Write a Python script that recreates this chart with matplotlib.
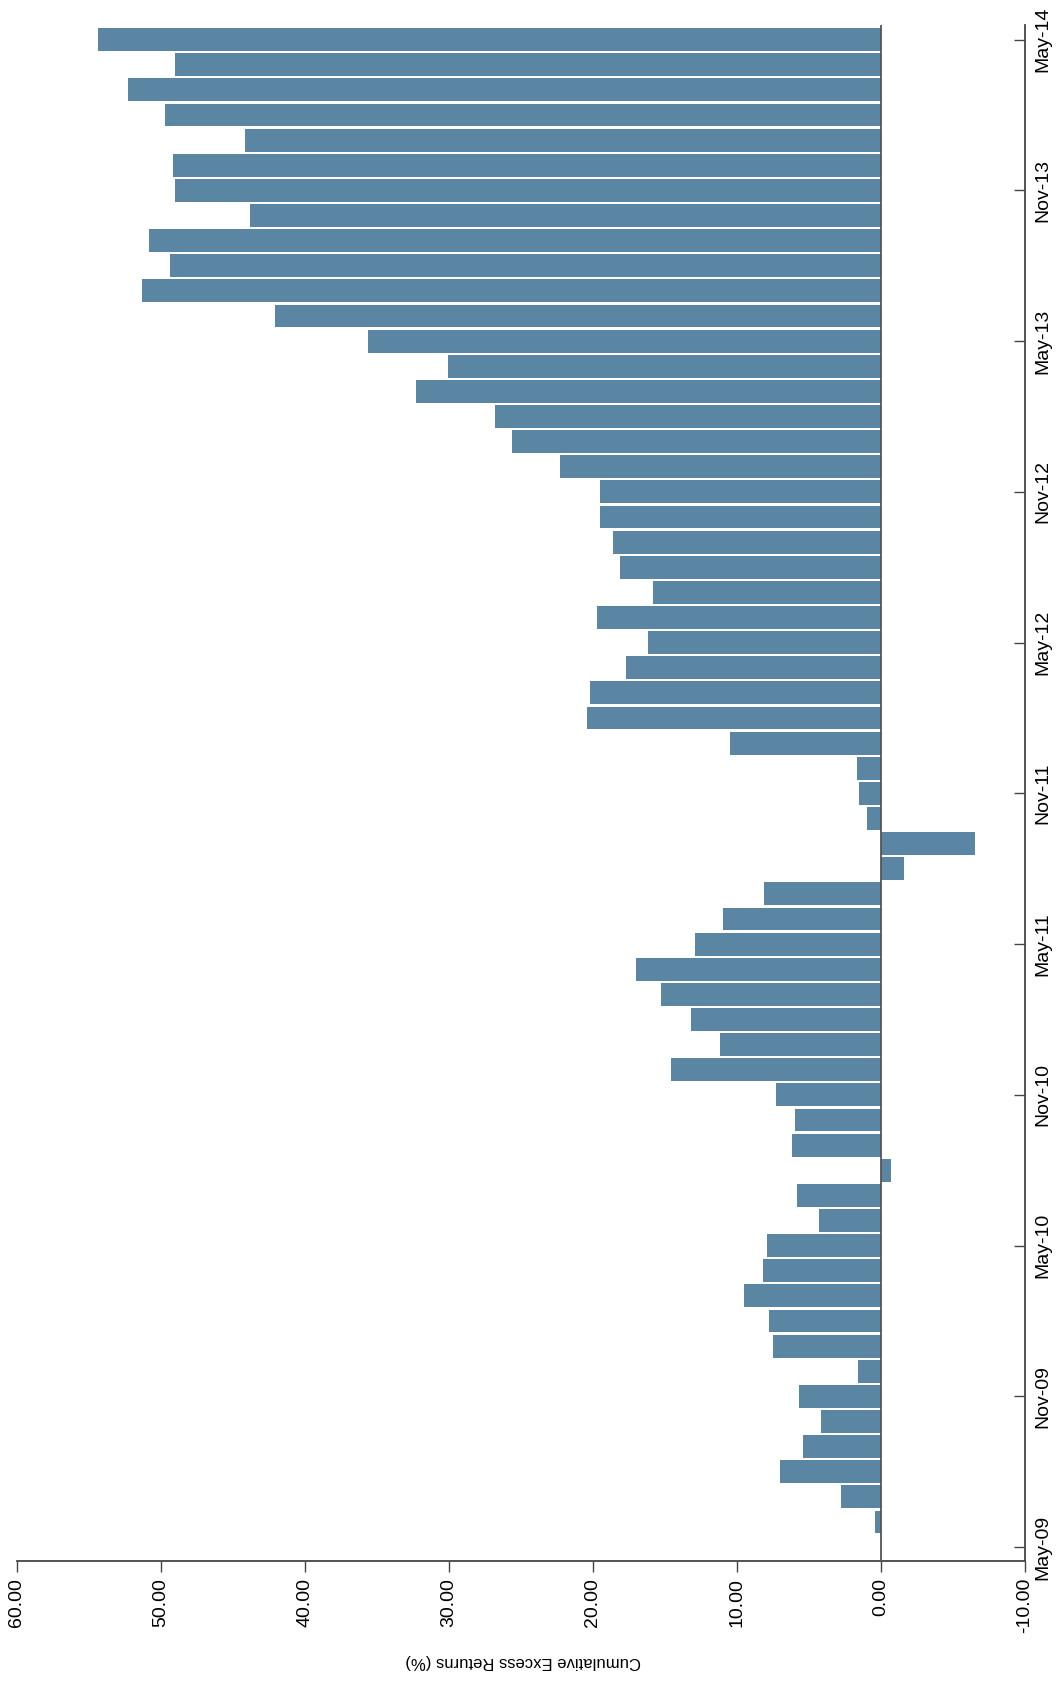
import matplotlib
matplotlib.use("Agg")
import matplotlib.pyplot as plt
import numpy as np

# Monthly cumulative excess returns (%), Jun-09 .. May-14 (bottom to top)
values_top_to_bottom = [
    54.4, 49.0, 52.3, 49.7, 44.2, 49.2, 49.0, 43.8, 50.8, 49.4,
    51.3, 42.1, 35.6, 30.1, 32.3, 26.8, 25.6, 22.3, 19.5, 19.5,
    18.6, 18.1, 15.8, 19.7, 16.2, 17.7, 20.2, 20.4, 10.5, 1.7,
    1.5, 1.0, -6.5, -1.6, 8.1, 11.0, 12.9, 17.0, 15.3, 13.2,
    11.2, 14.6, 7.3, 6.0, 6.2, -0.7, 5.8, 4.3, 7.9, 8.2,
    9.5, 7.8, 7.5, 1.6, 5.7, 4.2, 5.4, 7.0, 2.8, 0.4,
]
values = values_top_to_bottom[::-1]

date_tick_labels = ["May-09", "Nov-09", "May-10", "Nov-10", "May-11", "Nov-11",
                    "May-12", "Nov-12", "May-13", "Nov-13", "May-14"]
value_ticks = [60, 50, 40, 30, 20, 10, 0, -10]
value_tick_labels = ["60.00", "50.00", "40.00", "30.00", "20.00", "10.00", "0.00", "-10.00"]
axis_label = "Cumulative Excess Returns (%)"

FONT = ["Liberation Sans Narrow", "Liberation Sans", "DejaVu Sans"]
plt.rcParams["font.family"] = FONT

W, H = 1061, 1685
fig = plt.figure(figsize=(W / 100, H / 100), dpi=100)
ax = fig.add_axes([17 / W, 1 - 1561 / H, (1025 - 17) / W, (1561 - 25) / H])

pos = np.arange(len(values))
ax.barh(pos, values, height=0.91, color="#5a86a3", edgecolor="none", zorder=2)
ax.axvline(0, color="#555555", lw=1.3, zorder=3)

ax.set_xlim(60, -10)
ax.set_ylim(-1.55, 59.58)

ax.set_xticks(value_ticks)
ax.set_xticklabels(value_tick_labels, rotation=90, fontsize=14, va="top", ha="center")
ax.tick_params(axis="x", direction="out", length=8, width=1, color="#444444", pad=4)

tick_pos = [-1 + 6 * i for i in range(len(date_tick_labels))]
ax.yaxis.tick_right()
ax.set_yticks(tick_pos)
ax.set_yticklabels(date_tick_labels, rotation=90, fontsize=14, va="center", ha="left")
ax.tick_params(axis="y", direction="in", length=8, width=1, color="#444444", pad=7)

for s in ["top", "left"]:
    ax.spines[s].set_visible(False)
for s in ["bottom", "right"]:
    ax.spines[s].set_color("#444444")
    ax.spines[s].set_linewidth(1.3)

fig.text(523 / W, 1 - 1661 / H, axis_label, rotation=180, fontsize=12,
         ha="center", va="center")

fig.savefig("out.png", dpi=100, facecolor="white")
